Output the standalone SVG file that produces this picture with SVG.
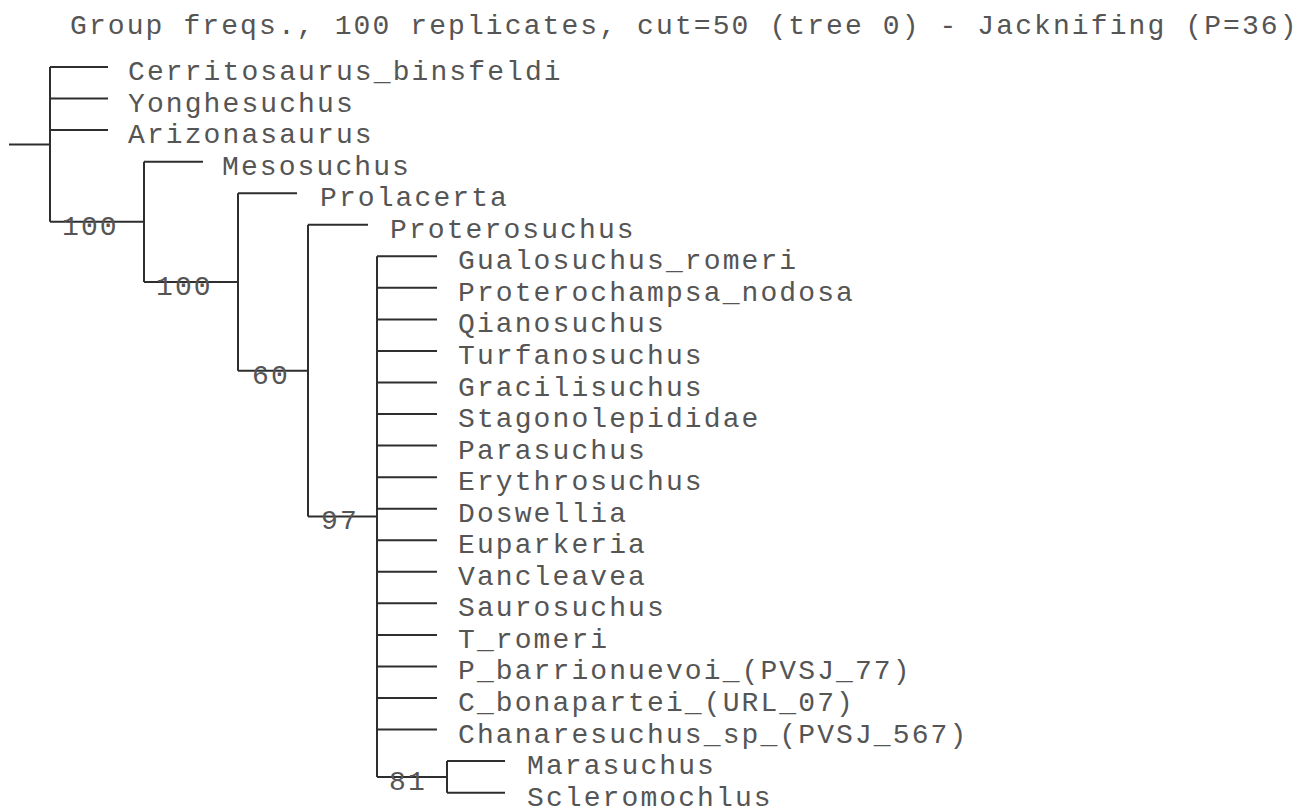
<svg xmlns="http://www.w3.org/2000/svg" width="1311" height="808" viewBox="0 0 1311 808">
<style>
text{font-family:"Liberation Mono","Courier New",monospace;font-size:28px;letter-spacing:2.1px;fill:#555555}
.c path{fill:none;stroke:#2e2e2e;stroke-width:2}
</style>
<rect width="1311" height="808" fill="#ffffff"/>
<text id="title" x="70" y="34">Group freqs., 100 replicates, cut=50 (tree 0) - Jacknifing (P=36)</text>
<g class="c" id="connectors">
<path d="M9,144.4H50M50,67V221.8"/>
<path d="M50,67H108M50,98.55H108M50,130.1H108"/>
<path d="M50,221.8H144M144,161.65V281.95M144,161.65H203"/>
<path d="M144,281.95H238M238,193.2V370.7M238,193.2H297"/>
<path d="M238,370.7H308M308,224.75V516.6M308,224.75H368"/>
<path d="M308,516.6H377M377,256.3V776.9"/>
<path d="M377,256.3H437M377,287.85H437M377,319.4H437M377,350.95H437M377,382.5H437M377,414.05H437M377,445.6H437M377,477.15H437M377,508.7H437M377,540.25H437M377,571.8H437M377,603.35H437M377,634.9H437M377,666.45H437M377,698H437M377,729.55H437"/>
<path d="M377,776.9H447M447,761.1V792.65M447,761.1H505M447,792.65H505"/>
</g>
<g id="n-cerritosaurus"><text x="128" y="80">Cerritosaurus_binsfeldi</text></g>
<g id="n-yonghesuchus"><text x="128" y="111.5">Yonghesuchus</text></g>
<g id="n-arizonasaurus"><text x="128" y="143.1">Arizonasaurus</text></g>
<g id="n-mesosuchus"><text x="222" y="174.6">Mesosuchus</text></g>
<g id="n-prolacerta"><text x="320" y="206.2">Prolacerta</text></g>
<g id="n-proterosuchus"><text x="390" y="237.7">Proterosuchus</text></g>
<g id="n-gualosuchus"><text x="458" y="269.3">Gualosuchus_romeri</text></g>
<g id="n-proterochampsa"><text x="458" y="300.8">Proterochampsa_nodosa</text></g>
<g id="n-qianosuchus"><text x="458" y="332.4">Qianosuchus</text></g>
<g id="n-turfanosuchus"><text x="458" y="363.9">Turfanosuchus</text></g>
<g id="n-gracilisuchus"><text x="458" y="395.5">Gracilisuchus</text></g>
<g id="n-stagonolepididae"><text x="458" y="427">Stagonolepididae</text></g>
<g id="n-parasuchus"><text x="458" y="458.6">Parasuchus</text></g>
<g id="n-erythrosuchus"><text x="458" y="490.1">Erythrosuchus</text></g>
<g id="n-doswellia"><text x="458" y="521.7">Doswellia</text></g>
<g id="n-euparkeria"><text x="458" y="553.2">Euparkeria</text></g>
<g id="n-vancleavea"><text x="458" y="584.8">Vancleavea</text></g>
<g id="n-saurosuchus"><text x="458" y="616.3">Saurosuchus</text></g>
<g id="n-t-romeri"><text x="458" y="647.9">T_romeri</text></g>
<g id="n-p-barrionuevoi"><text x="458" y="679.4">P_barrionuevoi_(PVSJ_77)</text></g>
<g id="n-c-bonapartei"><text x="458" y="711">C_bonapartei_(URL_07)</text></g>
<g id="n-chanaresuchus"><text x="458" y="742.5">Chanaresuchus_sp_(PVSJ_567)</text></g>
<g id="n-marasuchus"><text x="527" y="774.1">Marasuchus</text></g>
<g id="n-scleromochlus"><text x="527" y="805.6">Scleromochlus</text></g>
<g id="node-100a"><text x="62" y="234.5">100</text></g>
<g id="node-100b"><text x="156" y="294.5">100</text></g>
<g id="node-60"><text x="252" y="383.5">60</text></g>
<g id="node-97"><text x="321" y="529">97</text></g>
<g id="node-81"><text x="389" y="789.5">81</text></g>
</svg>
